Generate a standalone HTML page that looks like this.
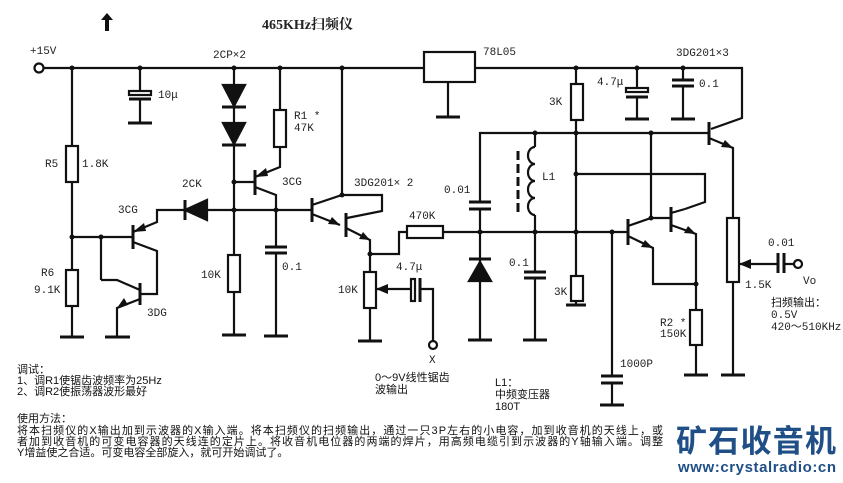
<!DOCTYPE html>
<html><head><meta charset="utf-8"><style>
html,body{margin:0;padding:0;background:#fff;}
svg{display:block;}
text{font-family:"Liberation Mono","Noto Sans CJK SC",monospace;font-size:11px;fill:#222;}
.c{font-family:"Liberation Sans","Noto Sans CJK SC",sans-serif;font-size:12px;fill:#111;}
</style></head><body>
<svg width="843" height="483" viewBox="0 0 843 483" xmlns="http://www.w3.org/2000/svg">
<g stroke="#111" stroke-width="2.2" fill="none">
<circle cx="39" cy="68" r="4.5" fill="#fff"/>
<line x1="44" y1="68" x2="424" y2="68"/>
<rect x="424" y="52" width="51" height="30"/>
<line x1="448" y1="82" x2="448" y2="117"/><line x1="436" y1="117" x2="460" y2="117" stroke-width="3"/>
<polyline points="475,68 742,68 742,118 711,129"/>
<line x1="140" y1="68" x2="140" y2="91"/>
<rect x="129" y="91" width="22" height="4" fill="#fff"/>
<line x1="129" y1="99" x2="151" y2="99" stroke-width="3"/>
<line x1="140" y1="99" x2="140" y2="123"/><line x1="128" y1="123" x2="152" y2="123" stroke-width="3"/>
<line x1="72" y1="68" x2="72" y2="146"/><rect x="66" y="146" width="12" height="36"/>
<line x1="72" y1="182" x2="72" y2="270"/><rect x="66" y="270" width="12" height="36"/>
<line x1="72" y1="306" x2="72" y2="337"/><line x1="60" y1="337" x2="84" y2="337" stroke-width="3"/>
<line x1="72" y1="237" x2="133" y2="237"/>
<line x1="133" y1="225" x2="133" y2="249" stroke-width="3"/>
<polyline points="133,232 157,222 157,210 185,210"/>
<polyline points="133,242 157,251 157,294 141,294"/>
<line x1="101" y1="237" x2="101" y2="280"/>
<polyline points="101,280 117,280 140,290"/>
<line x1="140" y1="283" x2="140" y2="305" stroke-width="3"/>
<polyline points="140,299 117,308 117,337"/><line x1="105" y1="337" x2="130" y2="337" stroke-width="3"/>
<line x1="185" y1="200" x2="185" y2="220" stroke-width="3"/>
<polygon points="185,210 207,200 207,220" fill="#111"/>
<line x1="207" y1="210" x2="312" y2="210"/>
<line x1="234" y1="68" x2="234" y2="255"/>
<polygon points="223,85 245,85 234,106" fill="#111"/><line x1="222" y1="107" x2="246" y2="107" stroke-width="3"/>
<polygon points="223,123 245,123 234,144" fill="#111"/><line x1="222" y1="145" x2="246" y2="145" stroke-width="3"/>
<rect x="228" y="255" width="12" height="37"/>
<line x1="234" y1="292" x2="234" y2="335"/><line x1="222" y1="335" x2="246" y2="335" stroke-width="3"/>
<line x1="280" y1="68" x2="280" y2="110"/><rect x="274" y="110" width="12" height="37"/>
<polyline points="280,147 280,167 255,177"/>
<line x1="234" y1="182" x2="255" y2="182"/>
<line x1="255" y1="170" x2="255" y2="195" stroke-width="3"/>
<polyline points="255,187 276,195 276,247"/>
<line x1="265" y1="247" x2="287" y2="247" stroke-width="3"/><line x1="265" y1="253" x2="287" y2="253" stroke-width="3"/>
<line x1="276" y1="253" x2="276" y2="336"/><line x1="264" y1="336" x2="288" y2="336" stroke-width="3"/>
<line x1="342" y1="68" x2="342" y2="195"/>
<line x1="312" y1="198" x2="312" y2="222" stroke-width="3"/>
<polyline points="312,205 342,195 382,195 382,211 347,218"/>
<line x1="312" y1="214" x2="340" y2="225"/>
<line x1="346" y1="213" x2="346" y2="237" stroke-width="3"/>
<polyline points="346,228 370,240 370,272"/>
<polyline points="370,254 399,254 399,232 407,232"/>
<rect x="407" y="226" width="36" height="12"/>
<line x1="443" y1="232" x2="480" y2="232"/>
<rect x="364" y="272" width="12" height="36"/>
<line x1="370" y1="308" x2="370" y2="341"/><line x1="358" y1="341" x2="382" y2="341" stroke-width="3"/>
<line x1="376" y1="289" x2="410" y2="289"/>
<rect x="411" y="279" width="4" height="22" fill="#fff"/><line x1="420" y1="278" x2="420" y2="302" stroke-width="3"/>
<polyline points="420,289 433,289 433,341"/>
<circle cx="433" cy="345" r="4" fill="#fff"/>
<polyline points="709,133 480,133 480,202"/>
<line x1="469" y1="202" x2="491" y2="202" stroke-width="3"/><line x1="469" y1="209" x2="491" y2="209" stroke-width="3"/>
<line x1="480" y1="209" x2="480" y2="340"/>
<line x1="469" y1="259" x2="491" y2="259" stroke-width="3"/>
<polygon points="469,281 491,281 480,262" fill="#111"/>
<line x1="468" y1="340" x2="492" y2="340" stroke-width="3"/>
<line x1="535" y1="133" x2="535" y2="147"/>
<path d="M535,147 a7,8.5 0 1 0 0,17 a7,8.5 0 1 0 0,17 a7,8.5 0 1 0 0,17 a7,8.5 0 1 0 0,17"/>
<line x1="535" y1="215" x2="535" y2="272"/>
<line x1="518" y1="151" x2="518" y2="212" stroke-width="3" stroke-dasharray="9,4"/>
<line x1="524" y1="272" x2="546" y2="272" stroke-width="3"/><line x1="524" y1="278" x2="546" y2="278" stroke-width="3"/>
<line x1="535" y1="278" x2="535" y2="340"/><line x1="523" y1="340" x2="547" y2="340" stroke-width="3"/>
<line x1="480" y1="232" x2="628" y2="232"/>
<line x1="576" y1="68" x2="576" y2="84"/><rect x="571" y="84" width="12" height="36"/>
<line x1="576" y1="120" x2="576" y2="276"/><rect x="571" y="276" width="12" height="25"/>
<polyline points="576,301 576,305 568,305"/><line x1="566" y1="305" x2="586" y2="305" stroke-width="3"/>
<polyline points="576,174 705,174 705,202 685,209"/>
<line x1="637" y1="68" x2="637" y2="89"/>
<rect x="626" y="88" width="22" height="4" fill="#fff"/><line x1="626" y1="97" x2="648" y2="97" stroke-width="3"/>
<line x1="637" y1="97" x2="637" y2="119"/><line x1="625" y1="119" x2="649" y2="119" stroke-width="3"/>
<line x1="683" y1="68" x2="683" y2="80"/>
<line x1="672" y1="80" x2="694" y2="80" stroke-width="3"/><line x1="672" y1="86" x2="694" y2="86" stroke-width="3"/>
<line x1="683" y1="86" x2="683" y2="119"/><line x1="671" y1="119" x2="695" y2="119" stroke-width="3"/>
<line x1="709" y1="122" x2="709" y2="145" stroke-width="3"/>
<polyline points="709,138 733,148 733,218"/>
<rect x="727" y="218" width="12" height="64"/>
<line x1="733" y1="282" x2="733" y2="375"/><line x1="721" y1="375" x2="745" y2="375" stroke-width="3"/>
<line x1="739" y1="264" x2="778" y2="264"/>
<line x1="778" y1="253" x2="778" y2="273" stroke-width="3"/><line x1="784" y1="253" x2="784" y2="273" stroke-width="3"/>
<line x1="784" y1="264" x2="794" y2="264"/>
<circle cx="798" cy="264" r="4" fill="#fff"/>
<line x1="651" y1="133" x2="651" y2="218"/>
<line x1="628" y1="219" x2="628" y2="245" stroke-width="3"/>
<polyline points="628,226 651,218 671,218"/>
<polyline points="628,236 653,248 653,284 696,284"/>
<line x1="671" y1="207" x2="671" y2="232" stroke-width="3"/>
<polyline points="671,213 685,209"/>
<polyline points="671,225 696,234 696,310"/>
<rect x="690" y="310" width="12" height="35"/>
<line x1="696" y1="345" x2="696" y2="375"/><line x1="684" y1="375" x2="708" y2="375" stroke-width="3"/>
<line x1="612" y1="232" x2="612" y2="376"/>
<line x1="601" y1="376" x2="623" y2="376" stroke-width="3"/><line x1="601" y1="383" x2="623" y2="383" stroke-width="3"/>
<line x1="612" y1="383" x2="612" y2="405"/><line x1="600" y1="405" x2="624" y2="405" stroke-width="3"/>
</g>
<g fill="#111">
<circle cx="72" cy="68" r="2.5"/><circle cx="140" cy="68" r="2.5"/><circle cx="234" cy="68" r="2.5"/><circle cx="280" cy="68" r="2.5"/><circle cx="342" cy="68" r="2.5"/>
<circle cx="576" cy="68" r="2.5"/><circle cx="637" cy="68" r="2.5"/><circle cx="683" cy="68" r="2.5"/>
<circle cx="72" cy="237" r="2.5"/><circle cx="101" cy="237" r="2.5"/><circle cx="234" cy="182" r="2.5"/><circle cx="234" cy="210" r="2.5"/><circle cx="276" cy="210" r="2.5"/>
<circle cx="342" cy="195" r="2.5"/><circle cx="370" cy="254" r="2.5"/><circle cx="480" cy="232" r="2.5"/>
<circle cx="535" cy="133" r="2.5"/><circle cx="576" cy="133" r="2.5"/><circle cx="651" cy="133" r="2.5"/><circle cx="576" cy="174" r="2.5"/>
<circle cx="535" cy="232" r="2.5"/><circle cx="576" cy="232" r="2.5"/><circle cx="612" cy="232" r="2.5"/><circle cx="651" cy="218" r="2.5"/><circle cx="696" cy="284" r="2.5"/>
<polygon points="255,177 266,168 268,176"/>
<polygon points="133,232 144,223 146,231"/>
<polygon points="117,308 124,298 128,305"/>
<polygon points="340,225 328,224 332,217"/>
<polygon points="370,240 359,239 363,232"/>
<polygon points="653,248 641,247 645,240"/>
<polygon points="696,234 684,233 688,226"/>
<polygon points="733,148 721,147 725,140"/>
<polygon points="376,289 388,284 388,294"/>
<polygon points="739,264 751,259 751,269"/>
<polygon points="107,13 113,20 109,20 109,31 105,31 105,20 101,20"/>
</g>
<text x="262" y="29" style="font-family:'Liberation Serif','Noto Serif CJK SC',serif;font-size:14px;font-weight:bold">465KHz扫频仪</text>
<text x="30" y="54">+15V</text>
<text x="213" y="58">2CP×2</text>
<text x="158" y="98">10μ</text>
<text x="294" y="119">R1 *</text><text x="294" y="131">47K</text>
<text x="45" y="167">R5</text><text x="82" y="167">1.8K</text>
<text x="182" y="187">2CK</text><text x="282" y="185">3CG</text>
<text x="118" y="213">3CG</text>
<text x="354" y="186">3DG201× 2</text>
<text x="41" y="276">R6</text><text x="34" y="293">9.1K</text>
<text x="147" y="316">3DG</text>
<text x="201" y="278">10K</text><text x="282" y="270">0.1</text>
<text x="338" y="293">10K</text><text x="396" y="270">4.7μ</text><text x="409" y="219">470K</text>
<text x="429" y="363">X</text>
<text x="483" y="55">78L05</text>
<text x="676" y="56">3DG201×3</text>
<text x="597" y="85">4.7μ</text><text x="699" y="87">0.1</text>
<text x="549" y="105">3K</text>
<text x="444" y="193">0.01</text><text x="542" y="180">L1</text>
<text x="509" y="266">0.1</text><text x="554" y="295">3K</text>
<text x="620" y="367">1000P</text>
<text x="660" y="326">R2 *</text><text x="660" y="337">150K</text>
<text x="768" y="246">0.01</text><text x="745" y="288">1.5K</text><text x="803" y="284">Vo</text>
<text class="c" x="771" y="306" style="font-size:11px">扫频输出：</text>
<text x="771" y="318">0.5V</text><text x="771" y="330">420～510KHz</text>
<text class="c" x="375" y="381" style="font-size:11px">0～9V线性锯齿</text>
<text class="c" x="375" y="393" style="font-size:11px">波输出</text>
<text class="c" x="495" y="386" style="font-size:11px">L1：</text>
<text class="c" x="495" y="398" style="font-size:11px">中频变压器</text>
<text class="c" x="495" y="410" style="font-size:11px">180T</text>
<text class="c" x="17" y="373" style="font-size:11px">调试：</text>
<text class="c" x="17" y="384" style="font-size:11px">1、调R1使锯齿波频率为25Hz</text>
<text class="c" x="17" y="395" style="font-size:11px">2、调R2使振荡器波形最好</text>
<text class="c" x="17" y="422" style="font-size:11px">使用方法：</text>
<text class="c" x="17" y="434" textLength="646" style="font-size:11px">将本扫频仪的X输出加到示波器的X输入端。将本扫频仪的扫频输出，通过一只3P左右的小电容，加到收音机的天线上，或</text>
<text class="c" x="17" y="445" textLength="646" style="font-size:11px">者加到收音机的可变电容器的天线连的定片上。将收音机电位器的两端的焊片，用高频电缆引到示波器的Y轴输入端。调整</text>
<text class="c" x="17" y="456" style="font-size:11px">Y增益使之合适。可变电容全部旋入，就可开始调试了。</text>
<text x="676" y="452" textLength="160" style="font-family:'Noto Sans CJK SC',sans-serif;font-size:31px;font-weight:bold;fill:#1f4f86">矿石收音机</text>
<text x="678" y="472" textLength="158" style="font-family:'Liberation Sans',sans-serif;font-size:15px;font-weight:bold;fill:#1f4f86">www:crystalradio:cn</text>
</svg>
</body></html>
